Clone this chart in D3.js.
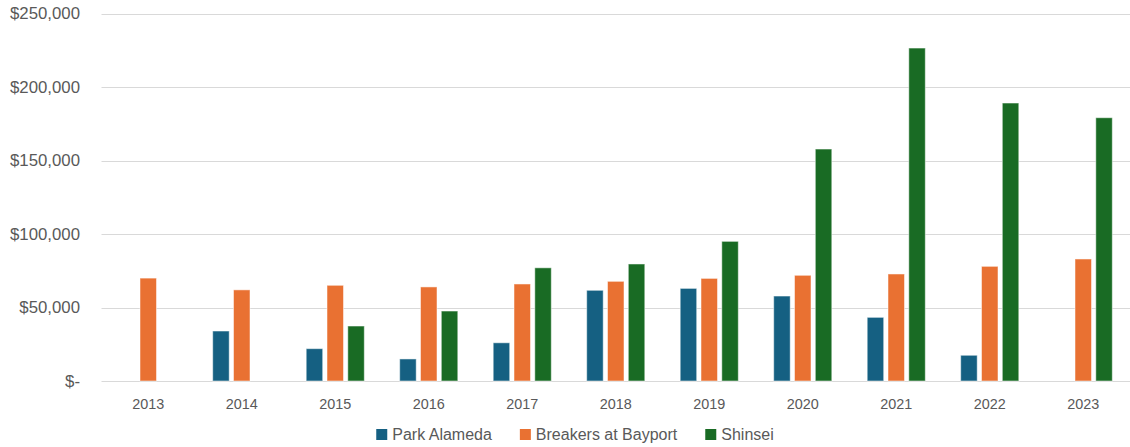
<!DOCTYPE html>
<html>
<head>
<meta charset="utf-8">
<script src="https://cdn.jsdelivr.net/npm/d3@7"></script>
<style>
  html, body { margin: 0; padding: 0; background: #fff; }
  svg { display: block; }
</style>
</head>
<body>
<svg id="chart" width="1130" height="447"></svg>
<script>
const years = ["2013","2014","2015","2016","2017","2018","2019","2020","2021","2022","2023"];
const seriesNames = ["Park Alameda", "Breakers at Bayport", "Shinsei"];
const parkAlameda = [null, 34000, 22000, 15000, 26000, 61700, 63000, 57800, 43300, 17500, null];
const breakers    = [70000, 62000, 65100, 64000, 66000, 67800, 69800, 71900, 72800, 78000, 83000];
const shinsei     = [null, null, 37400, 47600, 77000, 79600, 95000, 157800, 226500, 189100, 179100];
const yTicks = [0, 50000, 100000, 150000, 200000, 250000];
const colors = ["#156082", "#E97132", "#196B24"];

const seriesValues = [parkAlameda, breakers, shinsei];

const svg = d3.select("#chart");
const plot = { left: 101.5, right: 1130, top: 13.5, bottom: 381 };

const x = d3.scaleBand().domain(years).range([plot.left, plot.right]).paddingInner(0).paddingOuter(0);
const y = d3.scaleLinear().domain([0, 250000]).range([plot.bottom, plot.top]);

const fmt = v => v === 0 ? "$-" : "$" + d3.format(",")(v);

// gridlines
svg.append("g").selectAll("line").data(yTicks).join("line")
  .attr("x1", plot.left).attr("x2", plot.right)
  .attr("y1", d => Math.round(y(d)) + 0.5).attr("y2", d => Math.round(y(d)) + 0.5)
  .attr("stroke", "#d9d9d9").attr("stroke-width", 1);

// y labels
svg.append("g").selectAll("text").data(yTicks).join("text")
  .attr("x", 80).attr("y", d => y(d))
  .attr("dy", "0.35em")
  .attr("text-anchor", "end")
  .attr("font-family", "Liberation Sans, Arial, sans-serif")
  .attr("font-size", 16.8)
  .attr("fill", "#595959")
  .text(fmt);

// x labels
svg.append("g").selectAll("text").data(years).join("text")
  .attr("x", d => x(d) + x.bandwidth() / 2).attr("y", 409)
  .attr("text-anchor", "middle")
  .attr("font-family", "Liberation Sans, Arial, sans-serif")
  .attr("font-size", 14.4)
  .attr("fill", "#595959")
  .text(d => d);

// bars
const barW = 16.5, step = 20.8;
seriesValues.forEach((vals, si) => {
  const data = years.map((yr, i) => ({ yr, v: vals[i] })).filter(d => d.v != null);
  svg.append("g").selectAll("rect").data(data).join("rect")
    .attr("x", d => x(d.yr) + x.bandwidth() / 2 + (si - 1) * step - barW / 2)
    .attr("y", d => y(d.v))
    .attr("width", barW)
    .attr("height", d => y(0) - y(d.v))
    .attr("fill", colors[si])
    .attr("stroke", "#ffffff").attr("stroke-opacity", 0.5).attr("stroke-width", 1);
});

// legend
const legend = svg.append("g");
const itemGap = 28, sw = 11, swGap = 5;
const items = [];
let cx = 0;
seriesNames.forEach((name, i) => {
  const g = legend.append("g");
  g.append("rect").attr("x", cx).attr("y", 429).attr("width", sw).attr("height", sw).attr("fill", colors[i]);
  const t = g.append("text").attr("x", cx + sw + swGap).attr("y", 440)
    .attr("font-family", "Liberation Sans, Arial, sans-serif")
    .attr("font-size", 16).attr("fill", "#595959").text(name);
  const w = t.node().getComputedTextLength();
  cx += sw + swGap + w + itemGap;
});
const total = cx - itemGap;
legend.attr("transform", `translate(${(376 + 774) / 2 - total / 2},0)`);
</script>
</body>
</html>
